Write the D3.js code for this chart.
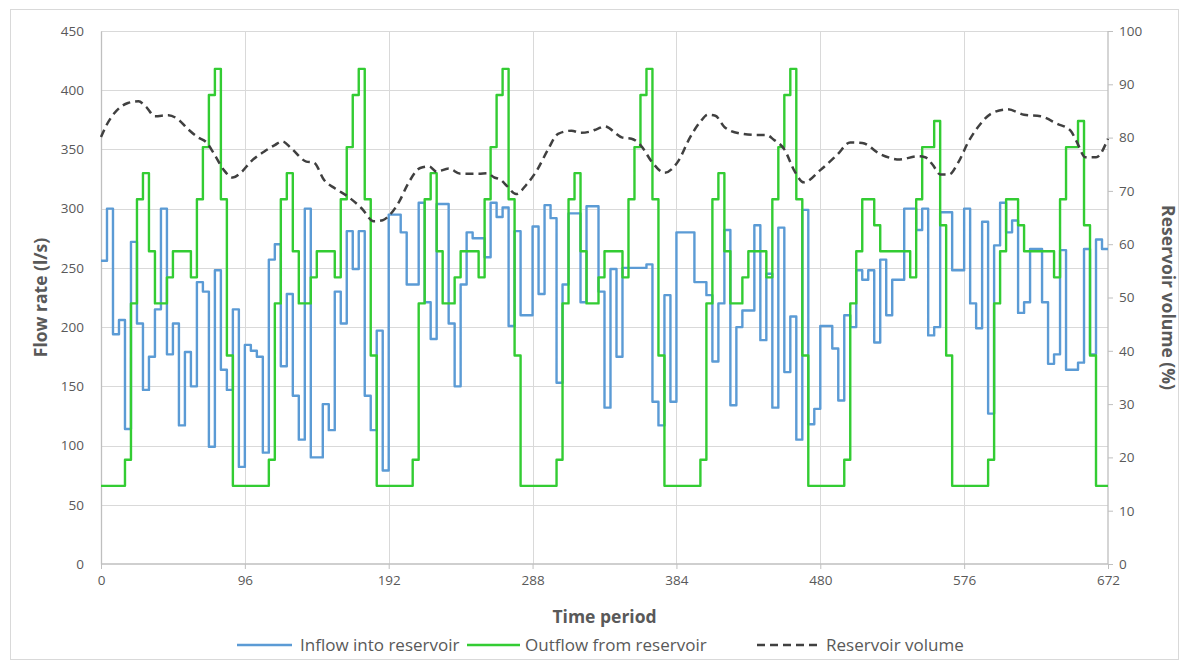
<!DOCTYPE html>
<html><head><meta charset="utf-8">
<script src="https://cdn.jsdelivr.net/npm/d3@7/dist/d3.min.js"></script>
<style>
html,body{margin:0;padding:0;background:#fff;}
text{font-family:"Open Sans",Lato,sans-serif;fill:#595959;}
</style></head>
<body><svg id="chart" width="1186" height="666"></svg>
<script>
// ---- data ----
const xTicks = [0, 96, 192, 288, 384, 480, 576, 672];
const flowTicks = [0, 50, 100, 150, 200, 250, 300, 350, 400, 450];
const volTicks = [0, 10, 20, 30, 40, 50, 60, 70, 80, 90, 100];

// Inflow into reservoir: period where a new level starts, and that level (l/s)
const inflowT = [0,4,8,12,16,20,24,28,32,36,40,44,48,52,56,60,64,68,72,76,80,84,88,92,96,100,104,108,112,116,120,124,128,132,136,140,148,152,156,160,164,168,172,176,180,184,188,192,200,204,212,216,220,224,232,236,240,244,248,256,260,264,268,272,276,280,288,292,296,300,304,308,312,320,324,332,336,340,344,348,364,368,372,376,380,384,396,404,408,412,416,420,424,428,436,440,444,448,452,456,460,464,468,472,476,480,488,492,496,500,504,508,512,516,520,524,528,536,544,548,552,556,560,568,576,580,584,588,592,596,600,604,608,612,616,620,628,632,636,640,644,652,656,660,664,668];
const inflowV = [256,300,194,206,114,272,203,147,175,215,300,177,203,117,179,150,238,230,99,248,164,147,215,82,185,180,175,94,257,270,167,228,142,105,300,90,135,113,230,203,281,249,281,142,113,197,79,295,280,236,305,221,190,304,203,150,236,280,275,259,305,293,301,201,281,210,285,228,303,292,153,236,296,221,302,230,132,249,175,250,253,137,117,227,137,280,238,227,171,220,282,134,200,214,286,189,245,132,284,162,209,105,299,118,131,201,182,138,210,200,248,240,248,187,257,210,240,300,282,300,193,200,297,248,300,220,199,289,127,269,305,280,290,212,221,266,221,169,177,265,164,170,266,177,274,266];

// Outflow from reservoir
const outflowT = [0,16,20,24,28,32,36,44,48,60,64,68,72,76,80,84,88,
  112,116,120,124,128,132,140,144,156,160,164,168,172,176,180,184,
  208,212,216,220,224,228,236,240,252,256,260,264,268,272,276,280,
  304,308,312,316,320,324,332,336,348,352,356,360,364,368,372,376,
  400,404,408,412,416,420,428,432,444,448,452,456,460,464,468,472,
  496,500,504,508,516,520,540,544,548,556,560,564,568,
  592,596,600,604,612,616,636,640,644,652,656,660,664];
const outflowV = [66,88,220,308,330,264,220,242,264,242,308,352,396,418,308,176,66,
  88,220,308,330,264,220,242,264,242,308,352,396,418,308,176,66,
  88,220,308,330,264,220,242,264,242,308,352,396,418,308,176,66,
  88,220,308,330,264,220,242,264,242,308,352,396,418,308,176,66,
  88,220,308,330,264,220,242,264,242,308,352,396,418,308,176,66,
  88,220,264,308,286,264,242,308,352,374,286,176,66,
  88,220,264,308,286,264,242,308,352,374,286,176,66];

// Reservoir volume (%)
const volumeT = [0,4,9,18,25,30,36,45,52,58,65,70,76,82,88,94,100,109,116,121,127,137,142,149,156,165,174,182,188,192,199,205,213,219,224,232,240,252,258,262,267,271,277,284,291,298,305,314,320,326,331,336,348,354,360,368,376,385,393,400,405,410,416,426,437,444,449,456,463,469,480,491,500,508,520,533,545,550,555,560,566,572,579,587,594,605,616,627,638,647,651,657,664,672];
const volumeV = [80.1,82.5,84.6,86.5,86.8,85.8,84,84.2,83.3,81.6,80,79.2,76.7,73.9,72.5,73.6,75.5,77.4,78.6,79.3,78,75.5,75.3,72,70.5,68.9,66.7,64.3,64.5,65.3,68,71.4,74.3,74.6,73.6,74.2,73.2,73.2,73.3,72.6,72,70.9,69.4,71.2,73.9,77.6,80.7,81.3,80.9,81.1,81.6,82.1,80,79.8,78.6,75.3,73.4,75.5,80,83,84.3,84.1,82,80.8,80.5,80.5,79.6,77.8,73.6,71.6,73.9,76.7,79.1,79,76.9,75.9,76.5,76.3,74.9,73.1,73.1,75.3,79.3,82.6,84.5,85.3,84.3,84,82.6,81.3,79.3,76.3,76.3,79.8];

const seriesNames = ["Inflow into reservoir", "Outflow from reservoir", "Reservoir volume"];
const xMax = 672;

// ---- chart ----
const svg = d3.select("#chart");
const L = 101, R = 1108, T = 31, B = 564;
const x = d3.scaleLinear().domain([0, 672]).range([L, R]);
const yL = d3.scaleLinear().domain([0, 450]).range([B, T]);
const yR = d3.scaleLinear().domain([0, 100]).range([B, T]);
const gridCol = "#d9d9d9", axisCol = "#bfbfbf";
const FONT = "'Open Sans', Lato, sans-serif";

svg.append("rect").attr("x", 10.5).attr("y", 9.5).attr("width", 1168).attr("height", 650)
  .attr("fill", "none").attr("stroke", "#d9d9d9");

// horizontal grid
svg.append("g").selectAll("line").data(flowTicks.filter(d => d > 0)).join("line")
  .attr("x1", L).attr("x2", R).attr("y1", d => Math.round(yL(d)) + 0.5).attr("y2", d => Math.round(yL(d)) + 0.5)
  .attr("stroke", gridCol).attr("stroke-width", 1);
// vertical grid
svg.append("g").selectAll("line").data(xTicks.filter(d => d > 0 && d < 672)).join("line")
  .attr("y1", T).attr("y2", B).attr("x1", d => Math.round(x(d)) + 0.5).attr("x2", d => Math.round(x(d)) + 0.5)
  .attr("stroke", gridCol).attr("stroke-width", 1);

// axes
const ax = svg.append("g").attr("transform", `translate(0,${B})`)
  .call(d3.axisBottom(x).tickValues(xTicks).tickSize(5).tickSizeOuter(0).tickPadding(6));
const ayL = svg.append("g").attr("transform", `translate(${L},0)`)
  .call(d3.axisLeft(yL).tickValues(flowTicks).tickSize(0).tickPadding(17));
const ayR = svg.append("g").attr("transform", `translate(${R},0)`)
  .call(d3.axisRight(yR).tickValues(volTicks).tickSize(5).tickSizeOuter(0).tickPadding(6));
[ax, ayL, ayR].forEach(g => {
  g.select(".domain").attr("stroke", axisCol).attr("stroke-width", 1.3);
  g.selectAll(".tick line").attr("stroke", axisCol);
  g.selectAll(".tick text").attr("font-size", 13.5).attr("fill", "#595959")
    .style("font-family", FONT);
});
ayR.select(".domain").attr("d", `M0,${T}V${B}`);
ax.select(".domain").attr("d", `M${L},0H${R}`);

// series
function stepPoints(ts, vs) {
  const pts = ts.map((t, i) => [t, vs[i]]);
  pts.push([xMax, vs[vs.length - 1]]);
  return pts;
}
const stepLine = y => d3.line().x(d => x(d[0])).y(d => y(d[1])).curve(d3.curveStepAfter);

svg.append("path").datum(stepPoints(inflowT, inflowV))
  .attr("d", stepLine(yL)).attr("fill", "none")
  .attr("stroke", "#5b9bd5").attr("stroke-width", 2.4).attr("stroke-linejoin", "round");
svg.append("path").datum(stepPoints(outflowT, outflowV))
  .attr("d", stepLine(yL)).attr("fill", "none")
  .attr("stroke", "#33cc33").attr("stroke-width", 2.4).attr("stroke-linejoin", "round");
svg.append("path").datum(volumeT.map((t, i) => [t, volumeV[i]]))
  .attr("d", d3.line().x(d => x(d[0])).y(d => yR(d[1])).curve(d3.curveMonotoneX))
  .attr("fill", "none").attr("stroke", "#404040").attr("stroke-width", 2.5)
  .attr("stroke-dasharray", "8,5");

// titles
svg.append("text").attr("x", (L + R) / 2).attr("y", 623).attr("text-anchor", "middle")
  .attr("font-size", 17.5).attr("font-weight", "bold").attr("fill", "#000").text("Time period");
svg.append("text").attr("transform", `translate(47,${(T + B) / 2}) rotate(-90)`).attr("text-anchor", "middle")
  .attr("font-size", 17.5).attr("font-weight", "bold").attr("fill", "#000").text("Flow rate (l/s)");
svg.append("text").attr("transform", `translate(1162,${(T + B) / 2}) rotate(90)`).attr("text-anchor", "middle")
  .attr("font-size", 17.5).attr("font-weight", "bold").attr("fill", "#000").text("Reservoir volume (%)");

// legend
const leg = [
  {x1: 237, x2: 292, tx: 300, color: "#5b9bd5", dash: null, w: 2.4},
  {x1: 467, x2: 520, tx: 525, color: "#33cc33", dash: null, w: 2.4},
  {x1: 757, x2: 820, tx: 826, color: "#404040", dash: "8,5", w: 2.5}
];
leg.forEach((l, i) => {
  svg.append("line").attr("x1", l.x1).attr("x2", l.x2).attr("y1", 645).attr("y2", 645)
    .attr("stroke", l.color).attr("stroke-width", l.w).attr("stroke-dasharray", l.dash);
  svg.append("text").attr("x", l.tx).attr("y", 651).attr("font-size", 17).text(seriesNames[i]);
});
</script></body></html>
